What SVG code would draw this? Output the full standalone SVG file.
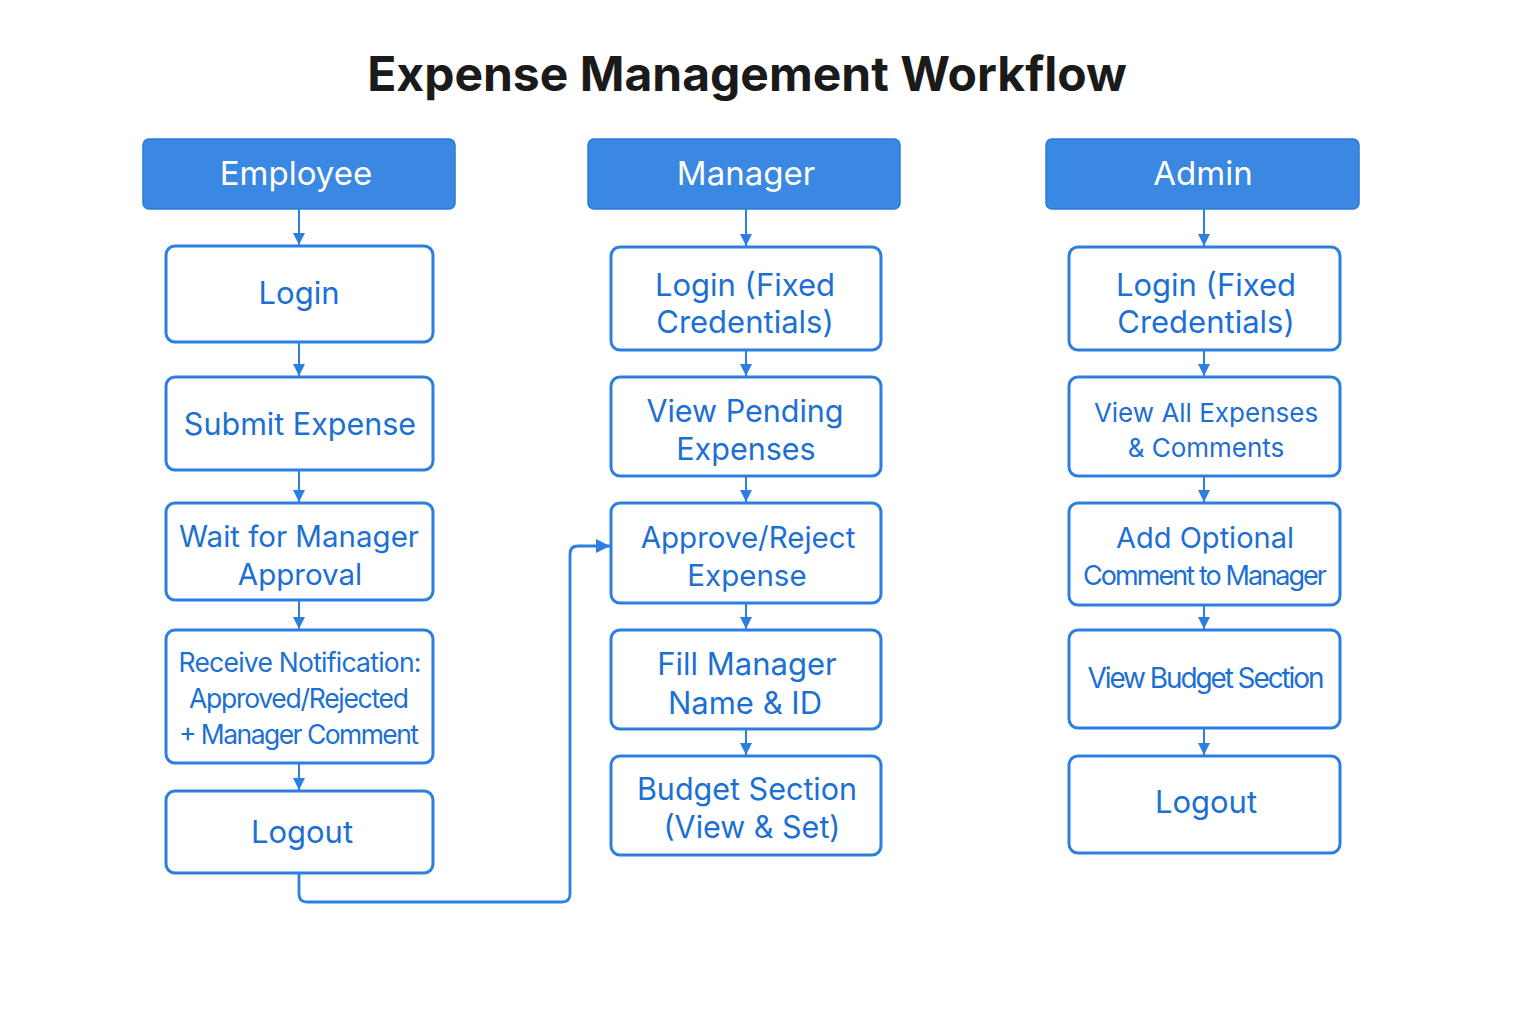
<svg xmlns="http://www.w3.org/2000/svg" width="1536" height="1024" viewBox="0 0 1536 1024">
<defs>
<marker id="ah" viewBox="0 0 10 10" refX="10" refY="5" markerWidth="6" markerHeight="6" orient="auto" markerUnits="strokeWidth">
<path d="M0,0 L10,5 L0,10 z" fill="#2b7fe0"/>
</marker>
<marker id="ah2" viewBox="0 0 10 10" refX="10" refY="5" markerWidth="5" markerHeight="5" orient="auto" markerUnits="strokeWidth">
<path d="M0,0 L10,5 L0,10 z" fill="#2b7fe0"/>
</marker>
<style>
.hdr{fill:#3a88e1;stroke:#2a7ad8;stroke-width:1.5}
.hdrt{fill:#ffffff;font-family:Inter,"Liberation Sans",sans-serif;font-size:33px;text-anchor:middle}
.box{fill:#ffffff;stroke:#2b7fe0;stroke-width:3}
.t{fill:#1c6fd3;font-family:Inter,"Liberation Sans",sans-serif;text-anchor:middle}
.c{fill:none;stroke:#2b7fe0;stroke-width:2}
.loop{stroke-width:2.8}
.title{fill:#1a1a1a;font-family:Inter,"Liberation Sans",sans-serif;font-size:48px;font-weight:bold;text-anchor:middle}
</style>
</defs>
<rect width="1536" height="1024" fill="#ffffff"/>
<text class="title" x="747" y="91">Expense Management Workflow</text>

<g id="connectors">
<path class="c" d="M299,209 V245" marker-end="url(#ah)"/>
<path class="c" d="M299,342 V376" marker-end="url(#ah)"/>
<path class="c" d="M299,470 V502" marker-end="url(#ah)"/>
<path class="c" d="M299,600 V629" marker-end="url(#ah)"/>
<path class="c" d="M299,763 V790" marker-end="url(#ah)"/>
<path class="c" d="M746,209 V246" marker-end="url(#ah)"/>
<path class="c" d="M746,350 V376" marker-end="url(#ah)"/>
<path class="c" d="M746,476 V502" marker-end="url(#ah)"/>
<path class="c" d="M746,603 V629" marker-end="url(#ah)"/>
<path class="c" d="M746,729 V755" marker-end="url(#ah)"/>
<path class="c" d="M1204,209 V246" marker-end="url(#ah)"/>
<path class="c" d="M1204,350 V376" marker-end="url(#ah)"/>
<path class="c" d="M1204,476 V502" marker-end="url(#ah)"/>
<path class="c" d="M1204,605 V629" marker-end="url(#ah)"/>
<path class="c" d="M1204,728 V755" marker-end="url(#ah)"/>
<path class="c loop" d="M299,873 V894 Q299,902 307,902 H562 Q570,902 570,894 V554 Q570,546 578,546 H610" marker-end="url(#ah2)"/>
</g>

<g id="hdr-employee"><rect class="hdr" x="143" y="139" width="312" height="70" rx="6"/><text class="hdrt" x="296" y="185">Employee</text></g>
<g id="hdr-manager"><rect class="hdr" x="588" y="139" width="312" height="70" rx="6"/><text class="hdrt" x="746" y="185">Manager</text></g>
<g id="hdr-admin"><rect class="hdr" x="1046" y="139" width="313" height="70" rx="6"/><text class="hdrt" x="1203" y="185">Admin</text></g>

<g id="emp-login"><rect class="box" x="166" y="246" width="267" height="96" rx="9"/><text class="t" x="299" y="304" font-size="31">Login</text></g>
<g id="emp-submit"><rect class="box" x="166" y="377" width="267" height="93" rx="9"/><text class="t" x="300" y="435" font-size="30.5">Submit Expense</text></g>
<g id="emp-wait"><rect class="box" x="166" y="503" width="267" height="97" rx="9"/><text class="t" x="299" y="547" font-size="29.5">Wait for Manager</text><text class="t" x="300" y="585" font-size="29.5">Approval</text></g>
<g id="emp-notify"><rect class="box" x="166" y="630" width="267" height="133" rx="9"/><text class="t" x="300" y="672" font-size="26.5" textLength="243">Receive Notification:</text><text class="t" x="299" y="708" font-size="26.5" textLength="220">Approved/Rejected</text><text class="t" x="299" y="744" font-size="26.5" textLength="240">+ Manager Comment</text></g>
<g id="emp-logout"><rect class="box" x="166" y="791" width="267" height="82" rx="9"/><text class="t" x="302" y="843" font-size="31">Logout</text></g>

<g id="mgr-login"><rect class="box" x="611" y="247" width="270" height="103" rx="9"/><text class="t" x="745" y="296" font-size="31">Login (Fixed</text><text class="t" x="745" y="333" font-size="31">Credentials)</text></g>
<g id="mgr-pending"><rect class="box" x="611" y="377" width="270" height="99" rx="9"/><text class="t" x="745" y="422" font-size="30.5">View Pending</text><text class="t" x="746" y="460" font-size="30.5">Expenses</text></g>
<g id="mgr-approve"><rect class="box" x="611" y="503" width="270" height="100" rx="9"/><text class="t" x="748" y="548" font-size="29.5">Approve/Reject</text><text class="t" x="747" y="586" font-size="29.5">Expense</text></g>
<g id="mgr-fill"><rect class="box" x="611" y="630" width="270" height="99" rx="9"/><text class="t" x="747" y="675" font-size="31">Fill Manager</text><text class="t" x="745" y="714" font-size="31">Name &amp; ID</text></g>
<g id="mgr-budget"><rect class="box" x="611" y="756" width="270" height="99" rx="9"/><text class="t" x="747" y="800" font-size="30.5">Budget Section</text><text class="t" x="752" y="838" font-size="30.5">(View &amp; Set)</text></g>

<g id="adm-login"><rect class="box" x="1069" y="247" width="271" height="103" rx="9"/><text class="t" x="1206" y="296" font-size="31">Login (Fixed</text><text class="t" x="1206" y="333" font-size="31">Credentials)</text></g>
<g id="adm-view"><rect class="box" x="1069" y="377" width="271" height="99" rx="9"/><text class="t" x="1206" y="422" font-size="26">View All Expenses</text><text class="t" x="1206" y="457" font-size="26">&amp; Comments</text></g>
<g id="adm-comment"><rect class="box" x="1069" y="503" width="271" height="102" rx="9"/><text class="t" x="1205" y="548" font-size="29">Add Optional</text><text class="t" x="1205" y="585" font-size="27" textLength="244">Comment to Manager</text></g>
<g id="adm-budget"><rect class="box" x="1069" y="630" width="271" height="98" rx="9"/><text class="t" x="1206" y="688" font-size="28" textLength="237">View Budget Section</text></g>
<g id="adm-logout"><rect class="box" x="1069" y="756" width="271" height="97" rx="9"/><text class="t" x="1206" y="813" font-size="31">Logout</text></g>
</svg>
